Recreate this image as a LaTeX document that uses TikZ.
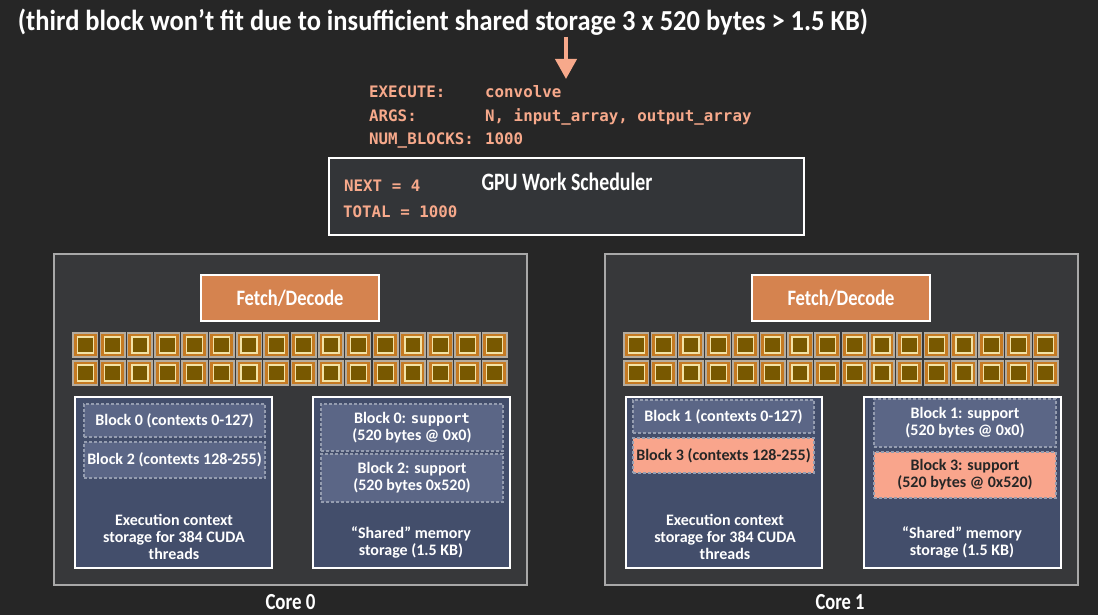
\documentclass[tikz,border=0pt]{standalone}
\usepackage{fontspec}
\usepackage{graphicx}
\setmainfont{Carlito}
\newfontfamily\monof{DejaVu Sans Mono}
\usetikzlibrary{arrows.meta}
\definecolor{bgc}{HTML}{262626}
\definecolor{corefill}{HTML}{37383A}
\definecolor{coreline}{HTML}{A8A8A8}
\definecolor{fetchfill}{HTML}{D5834F}
\definecolor{storefill}{HTML}{434E6B}
\definecolor{blockfill}{HTML}{5B6686}
\definecolor{blockline}{HTML}{959DB0}
\definecolor{hotfill}{HTML}{F9A58C}
\definecolor{salmon}{HTML}{F7A98B}
\definecolor{schedfill}{HTML}{333538}
\definecolor{cellorange}{HTML}{C57A22}
\definecolor{cellgray}{HTML}{B5AC9E}
\definecolor{cellinline}{HTML}{F3E3A6}
\definecolor{cellolive}{HTML}{785800}
\newcommand\cnd[2]{\resizebox{#1}{\height}{#2}}
\tikzset{
  box/.style={rectangle, inner sep=0pt, outer sep=0pt, anchor=north west},
  corebox/.style={box, fill=corefill, draw=coreline, line width=1.5pt, minimum width=473pt, minimum height=331pt},
  fetchbox/.style={box, fill=fetchfill, draw=white, line width=2pt, minimum width=178pt, minimum height=46pt},
  storebox/.style={box, fill=storefill, draw=white, line width=1.5pt, minimum height=171pt},
  blockbox/.style={box, fill=blockfill, draw=blockline, line width=2.6pt, dash pattern=on 3pt off 2pt, minimum width=181pt},
  hotblock/.style={blockbox, fill=hotfill},
  schedbox/.style={box, fill=schedfill, draw=white, line width=2.5pt, minimum width=475pt, minimum height=77pt},
  cellout/.style={box, fill=cellorange, draw=cellgray, line width=1.6pt, minimum width=24.5pt, minimum height=24pt},
  cellin/.style={rectangle, inner sep=0pt, fill=cellolive, draw=cellinline, line width=1.3pt, minimum size=16pt},
  wtext/.style={text=white, font=\bfseries\fontsize{16}{17}\selectfont, align=center, inner sep=0pt},
  dtext/.style={wtext, text=black!85},
  bigtext/.style={text=white, font=\bfseries\fontsize{25}{27}\selectfont, inner sep=0pt},
  monotext/.style={text=salmon, font=\monof\bfseries\fontsize{15.8}{18}\selectfont, inner sep=0pt, anchor=base west},
}
\begin{document}
\begin{tikzpicture}[x=1pt,y=-1pt]
\useasboundingbox[fill=bgc] (0,0) rectangle (1098,615);

% title
\node[bigtext, font=\bfseries\fontsize{29}{30}\selectfont, anchor=base] (title) at (443,31)
  {\cnd{850pt}{(third block won’t fit due to insufficient shared storage 3 x 520 bytes > 1.5 KB)}};
\coordinate (arrtop) at (566,37);
\coordinate (arrtip) at (566,79);
\draw[salmon, line width=4pt, -{Triangle[width=21pt,length=20pt]}] (arrtop) -- (arrtip);

% command
\node[monotext] (lexec) at (369,98) {EXECUTE:};
\node[monotext] (vexec) at (485,98) {convolve};
\node[monotext] (largs) at (369,122) {ARGS:};
\node[monotext] (vargs) at (485,122) {N, input\_array, output\_array};
\node[monotext] (lnum) at (369,145) {NUM\_BLOCKS:};
\node[monotext] (vnum) at (485,145) {1000};

% scheduler
\node[schedbox] (sched) at (329,158) {};
\node[monotext] (next) at (344,192) {NEXT = 4};
\node[monotext] (total) at (343,217) {TOTAL = 1000};
\node[bigtext, anchor=base] (schedlbl) at (567,190) {\cnd{171pt}{GPU Work Scheduler}};

% cores
\node[corebox] (core0) at (54,254) {};
\node[corebox] (core1) at (605,254) {};
\node[fetchbox] (fetch0) at (201,275) {};
\node[fetchbox] (fetch1) at (752,275) {};
\node[bigtext, font=\bfseries\fontsize{22}{24}\selectfont] (fetch0lbl) at (fetch0.center) {\cnd{107pt}{Fetch/Decode}};
\node[bigtext, font=\bfseries\fontsize{22}{24}\selectfont] (fetch1lbl) at (fetch1.center) {\cnd{107pt}{Fetch/Decode}};

\foreach \c/\ox in {0/0,1/551}{
  \foreach \r/\yy in {1/333,2/361}{
    \foreach \i in {0,...,15}{
      \node[cellout] (co-\c-\r-\i) at ({73+\ox+27.3*\i},\yy) {};
      \node[cellin] (ci-\c-\r-\i) at (co-\c-\r-\i.center) {};
    }
  }
}

% core 0 storage
\node[storebox, minimum width=197pt] (exec0) at (75,397) {};
\node[storebox, minimum width=197pt] (shared0) at (313,397) {};
\node[blockbox, minimum height=33pt] (b0ctx) at (84,404) {};
\node[wtext] (b0ctxt) at (b0ctx.center) {Block 0 (contexts 0-127)};
\node[blockbox, minimum height=36pt] (b2ctx) at (84,442) {};
\node[wtext] (b2ctxt) at (b2ctx.center) {Block 2 (contexts 128-255)};
\node[blockbox, minimum width=182pt, minimum height=47pt] (b0sup) at (321,404) {};
\node[wtext] (b0supt) at (b0sup.center) {Block 0: {\monof\bfseries\fontsize{14}{17}\selectfont support}\\(520 bytes @ 0x0)};
\node[blockbox, minimum width=182pt, minimum height=48pt] (b2sup) at (321,454) {};
\node[wtext] (b2supt) at (b2sup.center) {Block 2: support\\(520 bytes 0x520)};
\node[wtext] (exec0t) at (174,537) {Execution context\\storage for 384 CUDA\\threads};
\node[wtext] (shared0t) at (411,542) {“Shared” memory\\storage (1.5 KB)};

% core 1 storage
\node[storebox, minimum width=196pt] (exec1) at (626,397) {};
\node[storebox, minimum width=197pt] (shared1) at (864,397) {};
\node[blockbox, minimum height=33pt] (b1ctx) at (633,400) {};
\node[wtext] (b1ctxt) at (b1ctx.center) {Block 1 (contexts 0-127)};
\node[hotblock, minimum height=35pt] (b3ctx) at (633,438) {};
\node[dtext] (b3ctxt) at (b3ctx.center) {Block 3 (contexts 128-255)};
\node[blockbox, minimum width=182pt, minimum height=48pt] (b1sup) at (874,399) {};
\node[wtext] (b1supt) at (b1sup.center) {Block 1: support\\(520 bytes @ 0x0)};
\node[hotblock, minimum width=182pt, minimum height=46pt] (b3sup) at (874,452) {};
\node[dtext] (b3supt) at (b3sup.center) {Block 3: support\\(520 bytes @ 0x520)};
\node[wtext] (exec1t) at (725,537) {Execution context\\storage for 384 CUDA\\threads};
\node[wtext] (shared1t) at (962,542) {“Shared” memory\\storage (1.5 KB)};

% core labels
\node[bigtext, font=\bfseries\fontsize{23}{24}\selectfont, anchor=base] (core0lbl) at (290.5,609) {\cnd{50pt}{Core 0}};
\node[bigtext, font=\bfseries\fontsize{23}{24}\selectfont, anchor=base] (core1lbl) at (840,609) {\cnd{49pt}{Core 1}};
\end{tikzpicture}
\end{document}
